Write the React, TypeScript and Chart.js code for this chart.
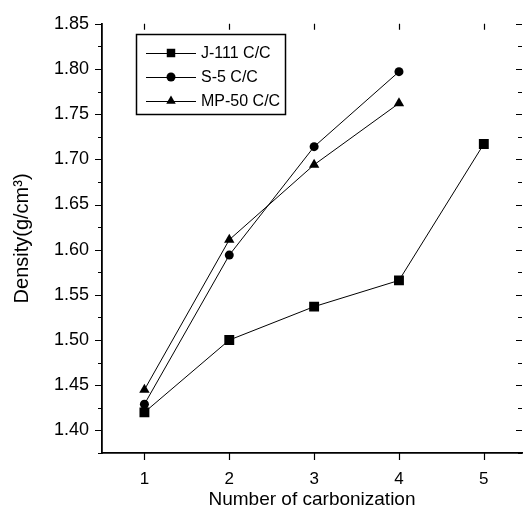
import React, { useEffect, useRef } from "react";
import { Chart, registerables } from "chart.js";

Chart.register(...registerables);

const xCategories = [1, 2, 3, 4, 5];
const j111Values = [1.42, 1.5, 1.537, 1.566, 1.717];
const s5Values = [1.429, 1.594, 1.714, 1.797];
const mp50Values = [1.445, 1.611, 1.694, 1.762];
const seriesNames = ["J-111 C/C", "S-5 C/C", "MP-50 C/C"];
const yTickValues = [1.4, 1.45, 1.5, 1.55, 1.6, 1.65, 1.7, 1.75, 1.8, 1.85];
const yMinorTickValues = [1.375, 1.425, 1.475, 1.525, 1.575, 1.625, 1.675, 1.725, 1.775, 1.825];
const xTickValues = [1, 2, 3, 4, 5];

const FONT = "'Liberation Sans', Arial, sans-serif";

function drawMarker(ctx: CanvasRenderingContext2D, style: string, x: number, y: number, r: number) {
  ctx.beginPath();
  if (style === "rect") {
    const s = r * Math.SQRT1_2;
    ctx.rect(x - s, y - s, 2 * s, 2 * s);
  } else if (style === "triangle") {
    const a = (2 * Math.PI) / 3;
    ctx.moveTo(x, y - r);
    ctx.lineTo(x + Math.sin(a) * r, y - Math.cos(a) * r);
    ctx.lineTo(x + Math.sin(2 * a) * r, y - Math.cos(2 * a) * r);
    ctx.closePath();
  } else {
    ctx.arc(x, y, r, 0, Math.PI * 2);
  }
  ctx.fill();
}

const tickPlugin = {
  id: "tickMarks",
  afterDraw(chart: any) {
    const { ctx, chartArea, scales } = chart;
    const { left, right, top, bottom } = chartArea;
    ctx.save();
    ctx.strokeStyle = "#000";
    ctx.lineWidth = 1.2;
    ctx.beginPath();
    yTickValues.forEach((v) => {
      const y = Math.round(scales.y.getPixelForValue(v)) + 0.5;
      ctx.moveTo(left - 7, y);
      ctx.lineTo(left, y);
      ctx.moveTo(right, y);
      ctx.lineTo(right - 6, y);
    });
    yMinorTickValues.forEach((v) => {
      const y = Math.round(scales.y.getPixelForValue(v)) + 0.5;
      ctx.moveTo(left - 4, y);
      ctx.lineTo(left, y);
      ctx.moveTo(right, y);
      ctx.lineTo(right - 4, y);
    });
    xTickValues.forEach((v) => {
      const x = Math.round(scales.x.getPixelForValue(v)) + 0.5;
      ctx.moveTo(x, bottom);
      ctx.lineTo(x, bottom + 7);
      ctx.moveTo(x, top);
      ctx.lineTo(x, top + 6);
    });
    ctx.stroke();
    ctx.restore();
  },
};

const legendPlugin = {
  id: "boxLegend",
  afterDraw(chart: any) {
    const { ctx } = chart;
    const boxLeft = 136;
    const boxTop = 34;
    const boxW = 149;
    const boxH = 80;
    ctx.save();
    ctx.strokeStyle = "#000";
    ctx.lineWidth = 1.5;
    ctx.strokeRect(boxLeft + 0.5, boxTop + 0.5, boxW, boxH);
    ctx.font = `16px ${FONT}`;
    ctx.textBaseline = "middle";
    ctx.fillStyle = "#000";
    chart.data.datasets.forEach((ds: any, i: number) => {
      const y = boxTop + 19 + i * 24;
      ctx.beginPath();
      ctx.lineWidth = 1;
      ctx.moveTo(boxLeft + 10, y + 0.5);
      ctx.lineTo(boxLeft + 60, y + 0.5);
      ctx.stroke();
      const r = ds.pointStyle === "rect" ? 6 : ds.pointStyle === "triangle" ? 5.5 : 4.5;
      drawMarker(ctx, ds.pointStyle, boxLeft + 35, y, r);
      ctx.fillText(ds.label, boxLeft + 65, y + 1);
    });
    ctx.restore();
  },
};

export default function App() {
  const ref = useRef<HTMLCanvasElement>(null);
  useEffect(() => {
    document.body.style.margin = "0";
    const toPts = (vals: number[]) => vals.map((v, i) => ({ x: xCategories[i], y: v }));
    const common = {
      borderColor: "#000",
      backgroundColor: "#000",
      pointBackgroundColor: "#000",
      pointBorderColor: "#000",
      borderWidth: 1,
      pointBorderWidth: 0,
      tension: 0,
      fill: false,
    };
    const chart = new Chart(ref.current as HTMLCanvasElement, {
      type: "line",
      data: {
        datasets: [
          { ...common, label: seriesNames[0], data: toPts(j111Values), pointStyle: "rect", pointRadius: 7 },
          { ...common, label: seriesNames[1], data: toPts(s5Values), pointStyle: "circle", pointRadius: 4.5 },
          { ...common, label: seriesNames[2], data: toPts(mp50Values), pointStyle: "triangle", pointRadius: 6 },
        ],
      },
      options: {
        animation: false,
        responsive: false,
        maintainAspectRatio: false,
        layout: { padding: { left: 0, right: 2, top: 22, bottom: 0 } },
        plugins: { legend: { display: false }, tooltip: { enabled: false } },
        scales: {
          x: {
            type: "linear",
            min: 0.5,
            max: 5.45,
            afterBuildTicks: (s: any) => {
              s.ticks = xTickValues.map((v) => ({ value: v }));
            },
            afterFit: (s: any) => {
              s.height = 66;
            },
            grid: { display: false, drawTicks: false },
            border: { display: true, color: "#000", width: 1.8 },
            ticks: {
              color: "#000",
              font: { family: FONT, size: 17 },
              padding: 16,
              callback: (v: any) => String(v),
            },
            title: {
              display: true,
              text: "Number of carbonization",
              color: "#000",
              font: { family: FONT, size: 19 },
              padding: { top: 0, bottom: 8 },
            },
          },
          y: {
            type: "linear",
            min: 1.375,
            max: 1.85,
            afterBuildTicks: (s: any) => {
              s.ticks = yTickValues.map((v) => ({ value: v }));
            },
            afterFit: (s: any) => {
              s.width = 102;
            },
            grid: { display: false, drawTicks: false },
            border: { display: true, color: "#000", width: 1.8 },
            ticks: {
              color: "#000",
              font: { family: FONT, size: 18 },
              padding: 13,
              callback: (v: any) => Number(v).toFixed(2),
            },
            title: {
              display: true,
              text: "Density(g/cm³)",
              color: "#000",
              font: { family: FONT, size: 20 },
              padding: { top: 10, bottom: 0 },
            },
          },
        },
      },
      plugins: [tickPlugin, legendPlugin],
    } as any);
    return () => chart.destroy();
  }, []);
  return <canvas ref={ref} width={529} height={519} style={{ display: "block" }} />;
}
